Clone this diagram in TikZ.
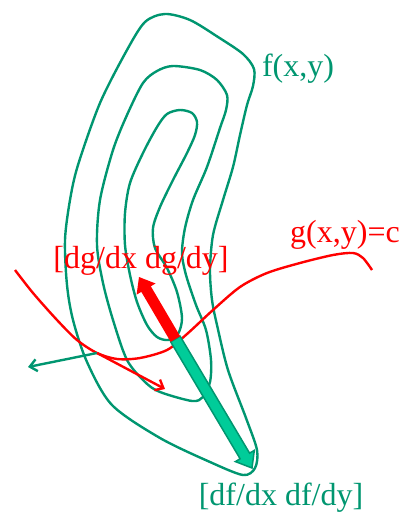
\documentclass[tikz,border=0pt]{standalone}
\usepackage{fontspec}
\setmainfont{Liberation Serif}
\usetikzlibrary{arrows.meta,calc}
\definecolor{cgreen}{RGB}{0,150,112}
\definecolor{cfill}{RGB}{0,204,153}
\definecolor{cred}{RGB}{255,0,0}
\tikzset{
  contour/.style={draw=cgreen, line width=2.4pt},
  constr/.style={draw=cred, line width=2.4pt},
  vec/.style={line width=2.4pt, -{Straight Barb[length=7pt,width=12pt]}},
  lbl/.style={font=\fontsize{32}{32}\selectfont, inner sep=0pt}
}

\begin{document}
\begin{tikzpicture}[x=1pt, y=-1pt]
  \useasboundingbox (0,0) rectangle (400,514);

  \draw[contour] plot[smooth cycle] coordinates {
    (165,14) (190,20) (218,37) (243,54) (254,69) (253,86) (247,105)
    (240,135) (233,167) (223,200) (213,235) (210,270) (212,300) (217,325)
    (228,370) (246,418) (257,450) (255,468) (243,475) (210,462) (160,438)
    (112,405) (87,362) (73,320) (67,285) (65,240) (70,200) (78,165)
    (100,103) (127,50) (145,22)};
  \draw[contour] plot[smooth cycle] coordinates {
    (173,66) (200,70) (217,80) (227,95) (226,110) (220,128) (207,167)
    (193,200) (185,228) (182,253) (186,275) (196,305) (206,330) (211,360)
    (210,382) (203,397) (192,401) (160,392) (145,382) (127,360) (113,320)
    (103,283) (97,245) (100,200) (113,150) (127,115) (143,83) (157,71)};
  \draw[contour] plot[smooth cycle] coordinates {
    (180,110) (192,113) (197,122) (195,135) (187,153) (173,180) (160,207)
    (153,228) (155,248) (167,268) (177,292) (182,318) (178,334) (168,340)
    (157,337) (147,325) (137,302) (130,275) (125,245) (125,213) (130,183)
    (143,153) (157,127) (167,114)};

  \draw[constr] plot[smooth] coordinates {
    (15,270) (33,293) (57,320) (77,340) (97,353) (117,359) (140,358)
    (167,350) (187,334) (213,310) (240,287) (267,273) (300,263) (333,255)
    (353,253) (363,258) (372,270)};

  \coordinate (p) at (97,353);
  \coordinate (nf) at (28,367);
  \coordinate (tg) at (165,389);
  \draw[vec, cgreen] (p) -- (nf);
  \draw[vec, cred] (p) -- (tg);

  \coordinate (mid) at (175.4,339);
  \coordinate (gtip) at (252,468);
  \coordinate (rtip) at (139,277);
  \coordinate (gb) at ($(gtip)!14pt!(mid)$);
  \coordinate (rb) at ($(rtip)!14pt!(mid)$);
  \filldraw[draw=cgreen, fill=cfill, line width=1.5pt]
    ($(mid)!5.5pt!90:(gtip)$) -- ($(gb)!5.5pt!-90:(mid)$) -- ($(gb)!11pt!-90:(mid)$)
    -- (gtip) -- ($(gb)!11pt!90:(mid)$) -- ($(gb)!5.5pt!90:(mid)$)
    -- ($(mid)!5.5pt!-90:(gtip)$) -- cycle;
  \fill[cred]
    ($(mid)!5.5pt!90:(rtip)$) -- ($(rb)!5.5pt!-90:(mid)$) -- ($(rb)!11pt!-90:(mid)$)
    -- (rtip) -- ($(rb)!11pt!90:(mid)$) -- ($(rb)!5.5pt!90:(mid)$)
    -- ($(mid)!5.5pt!-90:(rtip)$) -- cycle;

  \node[lbl, text=cgreen] (f) at (298,69) {f(x,y)};
  \node[lbl, text=cred] (g) at (345,235) {g(x,y)=c};
  \node[lbl, text=cred] (dg) at (141,261) {[dg/dx dg/dy]};
  \node[lbl, text=cgreen] (df) at (281,498) {[df/dx df/dy]};
\end{tikzpicture}
\end{document}
